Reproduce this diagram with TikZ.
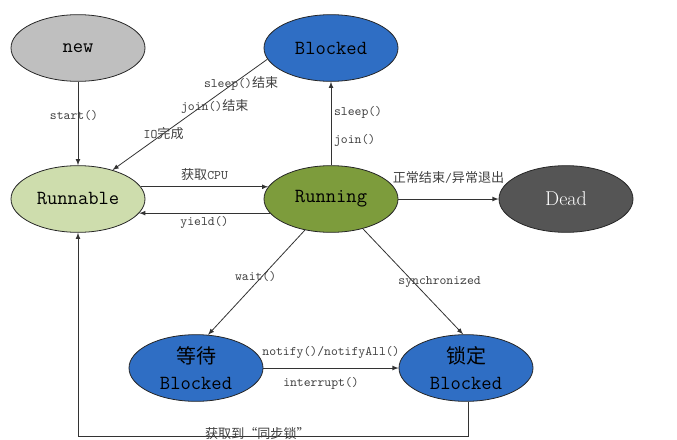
\documentclass[tikz,border=0pt]{standalone}
\usepackage{fontspec}
\newfontfamily\cjk{Noto Sans CJK SC}
\usetikzlibrary{shapes.geometric}
\definecolor{newgray}{RGB}{191,191,191}
\definecolor{blockblue}{RGB}{47,110,196}
\definecolor{readygreen}{RGB}{206,221,173}
\definecolor{runolive}{RGB}{125,156,60}
\definecolor{deadgray}{RGB}{85,85,85}
\tikzset{>=latex}
\tikzset{
  phase/.style = {
    ellipse, draw=black!85, line width=0.6pt,
    minimum width=100.5pt, minimum height=50pt, inner sep=0pt,
    align=center, font=\fontsize{15}{19}\selectfont\ttfamily
  },
  cond/.style = {
    font=\fontsize{9.8}{11}\selectfont\ttfamily,
    text=black!75, inner sep=2pt
  },
  wire/.style = {->, black!80, line width=0.6pt}
}

\begin{document}
\begin{tikzpicture}[x=0.75pt,y=-0.75pt]
  \useasboundingbox (0,0) rectangle (677,439);
  \node[phase, fill=newgray] (new) at (78,48) {new};
  \node[phase, fill=blockblue] (blocked) at (331,48) {Blocked};
  \node[phase, fill=readygreen] (runnable) at (78,199) {Runnable};
  \node[phase, fill=runolive] (running) at (331,199) {Running};
  \node[phase, fill=deadgray, text=white, font=\fontsize{15}{19}\selectfont\rmfamily] (dead) at (566,199) {Dead};
  \node[phase, fill=blockblue] (waiting) at (196,368) {{\cjk 等待}\\Blocked};
  \node[phase, fill=blockblue] (locked) at (466,368) {{\cjk 锁定}\\Blocked};
  \draw[wire] (new) -- node[cond, pos=0.4, xshift=-3pt] {start()} (runnable);
  \draw[wire] (blocked.190) -- node[cond, pos=0.17, yshift=-4pt] {sleep(){\cjk 结束}}
    node[cond, pos=0.34, yshift=-7pt] {join(){\cjk 结束}}
    node[cond, pos=0.67] {IO{\cjk 完成}} (runnable.40);
  \draw[wire] (running) -- node[cond, pos=0.3, right] {join()}
    node[cond, pos=0.63, right] {sleep()} (blocked);
  \draw[wire] (runnable.11) -- node[cond, above, yshift=2pt] {{\cjk 获取}CPU} (running.169);
  \draw[wire] (running.193) -- node[cond, below] {yield()} (runnable.-13);
  \draw[wire] (running) -- node[cond, above, yshift=9.5pt] {{\cjk 正常结束}/{\cjk 异常退出}} (dead);
  \draw[wire] (running.230) -- node[cond, pos=0.44, xshift=-5pt] {wait()} (waiting.70);
  \draw[wire] (running.-43) -- node[cond, pos=0.5, xshift=20pt] {synchronized} (locked.95);
  \draw[wire] (waiting) -- node[cond, above, yshift=5pt] {notify()/notifyAll()}
    node[cond, below, yshift=-5pt, xshift=-7.5pt] {interrupt()} (locked);
  \draw[wire] ([xshift=1.5pt]locked.south) -- ++(0,35) -| node[cond, pos=0.27, yshift=2.5pt] {{\cjk 获取到“同步锁”}} (runnable.south);
\end{tikzpicture}
\end{document}
